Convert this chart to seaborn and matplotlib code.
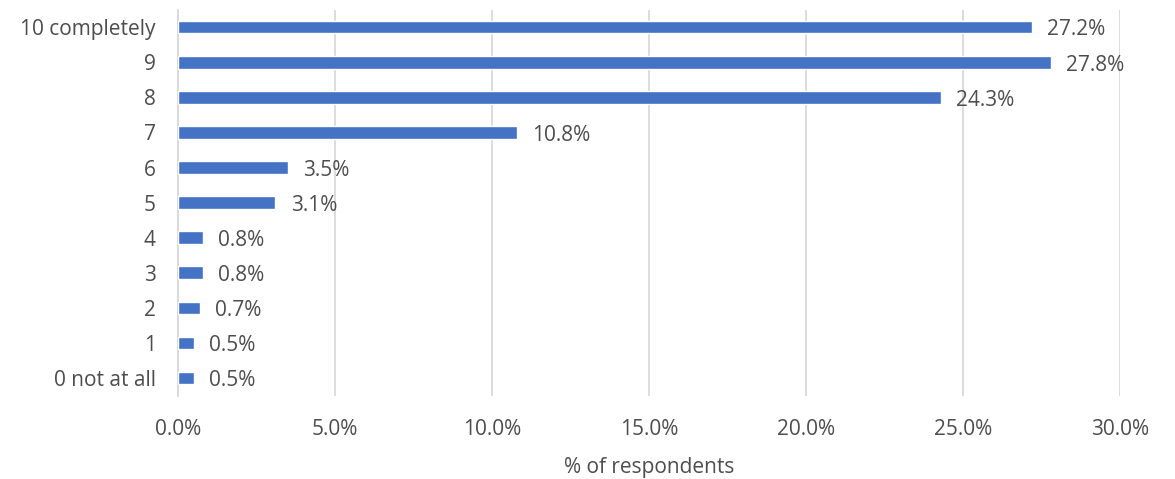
import matplotlib
matplotlib.use("Agg")
import matplotlib.pyplot as plt
import seaborn as sns
import pandas as pd
from matplotlib.ticker import FuncFormatter, MultipleLocator

# Survey answers, top row first
categories = ["10 completely", "9", "8", "7", "6", "5", "4", "3", "2", "1", "0 not at all"]
shares = [27.2, 27.8, 24.3, 10.8, 3.5, 3.1, 0.8, 0.8, 0.7, 0.5, 0.5]

df = pd.DataFrame({"category": categories, "share": shares})

sns.set_theme(style="white")
plt.rcParams["font.family"] = ["Open Sans", "DejaVu Sans"]

text_color = "#4D4D4D"
bar_color = "#4472C4"
grid_color = "#D9D9D9"

fig = plt.figure(figsize=(11.75, 4.79), dpi=100)
ax = fig.add_axes([0.1515, 0.174, 0.8015, 0.806])

sns.barplot(data=df, x="share", y="category", order=categories,
            color=bar_color, saturation=1, width=0.36, ax=ax, zorder=3)

for patch, val in zip(ax.patches, shares):
    y = patch.get_y() + patch.get_height() / 2
    ax.annotate(f"{val:.1f}%", xy=(val, y), xytext=(11, -2),
                textcoords="offset points", ha="left", va="center",
                fontsize=15, color=text_color)

ax.set_xlim(0, 30)
ax.xaxis.set_major_locator(MultipleLocator(5))
ax.xaxis.set_major_formatter(FuncFormatter(lambda v, _: f"{v:.1f}%"))
ax.grid(axis="x", color=grid_color, linewidth=1.3, zorder=0)
ax.set_axisbelow(True)

for side in ["top", "right", "bottom"]:
    ax.spines[side].set_visible(False)
ax.spines["left"].set_color(grid_color)
ax.spines["left"].set_linewidth(1.3)

ax.tick_params(axis="both", length=0, labelsize=15, colors=text_color)
ax.tick_params(axis="x", pad=17)
ax.tick_params(axis="y", pad=16)
ax.set_ylabel("")
ax.set_xlabel("% of respondents", fontsize=15, color=text_color, labelpad=12)

fig.savefig("out.png", dpi=100)
